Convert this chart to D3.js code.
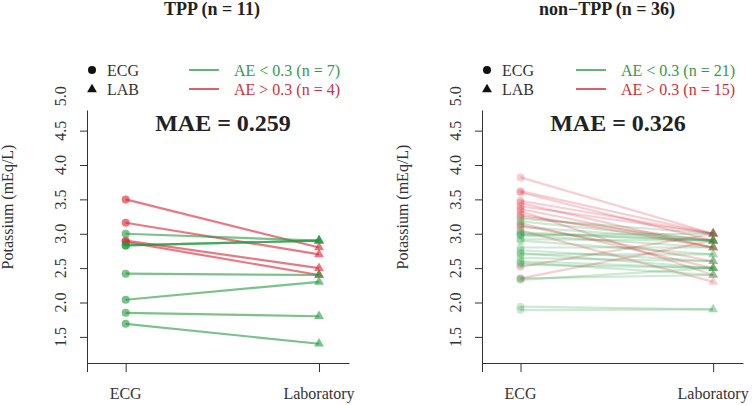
<!DOCTYPE html>
<html>
<head>
<meta charset="utf-8">
<script src="https://cdn.jsdelivr.net/npm/d3@7"></script>
<style>
  html, body { margin: 0; padding: 0; background: #fff; }
  svg { display: block; }
</style>
</head>
<body>
<svg id="chart" width="752" height="405"></svg>
<script>
// ---------- data ----------
const panelTitles = ["TPP (n = 11)", "non\u2212TPP (n = 36)"];
const maeLabels = ["MAE = 0.259", "MAE = 0.326"];
const greenLegend = ["AE < 0.3 (n = 7)", "AE < 0.3 (n = 21)"];
const redLegend = ["AE > 0.3 (n = 4)", "AE > 0.3 (n = 15)"];
const xCategories = ["ECG", "Laboratory"];
const yTickValues = [1.5, 2.0, 2.5, 3.0, 3.5, 4.0, 4.5];
const yLabelValues = [1.5, 2.0, 2.5, 3.0, 3.5, 4.0, 4.5, 5.0];

// TPP panel
const tppGreenEcg = [3.00, 2.83, 2.83, 2.42, 2.04, 1.85, 1.69];
const tppGreenLab = [2.9, 2.9, 2.9, 2.4, 2.3, 1.8, 1.4];
const tppRedEcg = [3.50, 3.16, 2.90, 2.88];
const tppRedLab = [2.8, 2.7, 2.5, 2.4];

// non-TPP panel
const nonGreenEcg = [3.22, 3.18, 3.10, 3.02, 3.00, 2.98, 2.98, 2.92, 2.90, 2.80, 2.76,
                     2.72, 2.70, 2.65, 2.60, 2.58, 2.55, 2.35, 2.33, 1.94, 1.89];
const nonGreenLab = [3.0, 2.9, 2.9, 2.9, 2.9, 3.0, 2.8, 2.9, 2.7, 2.8, 2.6,
                     2.5, 2.7, 2.6, 2.5, 2.4, 2.5, 2.4, 2.5, 1.9, 1.9];
const nonRedEcg = [3.82, 3.62, 3.60, 3.48, 3.45, 3.40, 3.36, 3.33, 3.28, 3.25, 3.15, 3.12, 3.05, 2.52, 2.35];
const nonRedLab = [3.0, 3.0, 2.9, 3.0, 2.8, 3.0, 2.8, 2.4, 2.8, 2.9, 2.5, 2.6, 2.3, 3.0, 2.9];

// ---------- drawing ----------
const FONT = "\"Liberation Serif\"";
const GREEN = "#1f9a3c";
const RED = "#dc1e30";
const GREEN_LEG = "#2e9e48";
const RED_LEG = "#d42a36";
const GREEN_TXT = "#339a4c";
const RED_TXT = "#cf2f3b";
const INK = "#333";

const svg = d3.select("#chart");
const y = d3.scaleLinear().domain([1.12, 4.8]).range([363, 110]);

const panels = [
  { x0: 87, x1: 349, alpha: 0.6, green: [tppGreenEcg, tppGreenLab], red: [tppRedEcg, tppRedLab] },
  { x0: 482, x1: 743, alpha: 0.22, green: [nonGreenEcg, nonGreenLab], red: [nonRedEcg, nonRedLab] }
];

const tri = d3.symbol().type(d3.symbolTriangle).size(42);

function label(sel) {
  return sel.append("text").attr("font-family", FONT).attr("fill", INK).attr("font-size", 16);
}

panels.forEach((p, i) => {
  const x = d3.scaleLinear().domain([0.8, 2.155]).range([p.x0, p.x1]);
  const g = svg.append("g");

  // axes
  g.append("g")
    .attr("transform", `translate(${p.x0},0)`)
    .call(d3.axisLeft(y).tickValues(yTickValues).tickSize(7).tickSizeOuter(0).tickFormat(""))
    .call(a => a.selectAll("path, line").attr("stroke", INK).attr("stroke-width", 1));
  g.append("g")
    .attr("transform", `translate(0,${y.range()[0]})`)
    .call(d3.axisBottom(x).tickValues([0.8, 1, 2]).tickSize(9).tickSizeOuter(0).tickFormat(""))
    .call(a => a.selectAll("path, line").attr("stroke", INK).attr("stroke-width", 1));

  // y tick labels (rotated)
  yLabelValues.forEach(d => {
    label(g).attr("transform", `translate(${p.x0 - 21},${y(d)}) rotate(-90)`)
      .attr("text-anchor", "middle").text(d.toFixed(1));
  });

  // y axis title
  label(g).attr("transform", `translate(${p.x0 - 74},207) rotate(-90)`)
    .attr("text-anchor", "middle").text("Potassium (mEq/L)");

  // x labels
  xCategories.forEach((d, k) => {
    label(g).attr("x", x(k + 1)).attr("y", 399).attr("text-anchor", "middle").text(d);
  });

  // title
  label(g).attr("x", p.x0 + 125).attr("y", 15)
    .attr("text-anchor", "middle").attr("font-size", 18).attr("font-weight", "bold")
    .attr("fill", "#222").text(panelTitles[i]);

  // MAE
  label(g).attr("x", p.x0 + 136).attr("y", 131)
    .attr("text-anchor", "middle").attr("font-size", 24).attr("font-weight", "bold")
    .attr("fill", "#222").text(maeLabels[i]);

  // legend left (symbols)
  g.append("circle").attr("cx", p.x0 + 5).attr("cy", 70).attr("r", 4).attr("fill", "#111");
  g.append("path").attr("d", tri).attr("transform", `translate(${p.x0 + 5},89.5)`).attr("fill", "#111");
  label(g).attr("x", p.x0 + 20).attr("y", 75.5).text("ECG");
  label(g).attr("x", p.x0 + 20).attr("y", 94.5).text("LAB");

  // legend right (lines)
  const rightEdge = p.x0 + 253;
  [[greenLegend[i], GREEN_LEG, GREEN_TXT, 70], [redLegend[i], RED_LEG, RED_TXT, 89]].forEach(([t, lc, tc, yy]) => {
    const txt = label(g).attr("x", rightEdge).attr("y", yy + 5.5)
      .attr("text-anchor", "end").attr("fill", tc).text(t);
    const w = txt.node().getComputedTextLength();
    g.append("line").attr("x1", rightEdge - w - 45).attr("x2", rightEdge - w - 15)
      .attr("y1", yy).attr("y2", yy).attr("stroke", lc).attr("stroke-width", 1.5);
  });

  // data
  const drawGroup = (ecg, lab, color) => {
    const gg = g.append("g");
    ecg.forEach((v, k) => {
      gg.append("line")
        .attr("x1", x(1)).attr("y1", y(v)).attr("x2", x(2)).attr("y2", y(lab[k]))
        .attr("stroke", color).attr("stroke-opacity", p.alpha).attr("stroke-width", 2.2);
      gg.append("circle").attr("cx", x(1)).attr("cy", y(v)).attr("r", 4)
        .attr("fill", color).attr("fill-opacity", p.alpha);
      gg.append("path").attr("d", tri).attr("transform", `translate(${x(2)},${y(lab[k])})`)
        .attr("fill", color).attr("fill-opacity", p.alpha);
    });
  };
  drawGroup(p.red[0], p.red[1], RED);
  drawGroup(p.green[0], p.green[1], GREEN);
});
</script>
</body>
</html>
